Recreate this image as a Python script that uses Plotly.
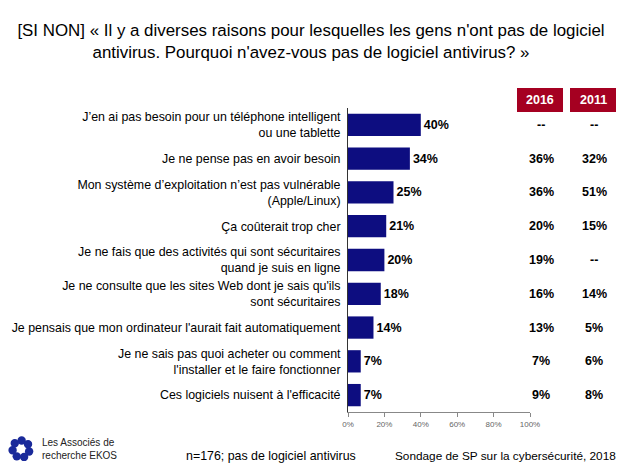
import plotly.graph_objects as go
import math

categories = [
    "J’en ai pas besoin pour un téléphone intelligent<br>ou une tablette",
    "Je ne pense pas en avoir besoin",
    "Mon système d’exploitation n’est pas vulnérable<br>(Apple/Linux)",
    "Ça coûterait trop cher",
    "Je ne fais que des activités qui sont sécuritaires<br>quand je suis en ligne",
    "Je ne consulte que les sites Web dont je sais qu'ils<br>sont sécuritaires",
    "Je pensais que mon ordinateur l'aurait fait automatiquement",
    "Je ne sais pas quoi acheter ou comment<br>l'installer et le faire fonctionner",
    "Ces logiciels nuisent à l'efficacité",
]
values_2018 = [40, 34, 25, 21, 20, 18, 14, 7, 7]
col_2016 = ["--", "36%", "36%", "20%", "19%", "16%", "13%", "7%", "9%"]
col_2011 = ["--", "32%", "51%", "15%", "--", "14%", "5%", "6%", "8%"]
x_ticks = [0, 20, 40, 60, 80, 100]
x_ticklabels = ["0%", "20%", "40%", "60%", "80%", "100%"]

TITLE = "[SI NON] « Il y a diverses raisons pour lesquelles les gens n'ont pas de logiciel<br>antivirus. Pourquoi n'avez-vous pas de logiciel antivirus? »"
ARIAL = "Liberation Sans, Arial, sans-serif"
RED = "#A50021"

# page body has an 8px margin: work in reference pixels, shift by OFF
OFF = 8
W, H = 624 - OFF, 468 - OFF
PX0, PX1, PY0, PY1 = 348, 530, 108, 412   # plot area in reference pixels
L, R, T, B = PX0 - OFF, W - (PX1 - OFF), PY0 - OFF, H - (PY1 - OFF)


def px(xr):
    return (xr - PX0) / (PX1 - PX0)


def py(yr):
    return (PY1 - yr) / (PY1 - PY0)


fig = go.Figure()
fig.add_trace(go.Bar(
    y=categories, x=values_2018, orientation="h",
    marker=dict(color="#0D0D80", line=dict(width=0)),
    width=0.66,
    text=[f"{v}%" for v in values_2018], textposition="outside",
    textfont=dict(family=ARIAL, size=12.5, color="black", weight="bold"),
    cliponaxis=False, showlegend=False,
))

# comparison columns on the category axis
for xs, vals in [(541, col_2016), (594, col_2011)]:
    for cat, v in zip(categories, vals):
        fig.add_annotation(x=px(xs), xref="paper", y=cat, yref="y", text=f"<b>{v}</b>",
                           showarrow=False, xanchor="center", yanchor="middle",
                           font=dict(family=ARIAL, size=12.5, color="black"))

# header boxes
for x0, x1, label in [(517, 563, "2016"), (570, 616, "2011")]:
    fig.add_shape(type="rect", xref="paper", yref="paper", x0=px(x0), x1=px(x1),
                  y0=py(112), y1=py(88), fillcolor=RED, line=dict(width=0), layer="above")
    fig.add_annotation(x=px((x0 + x1) / 2), y=py(100), xref="paper", yref="paper",
                       text=f"<b>{label}</b>", showarrow=False,
                       xanchor="center", yanchor="middle",
                       font=dict(family=ARIAL, size=12.5, color="white"))

# footer
fig.add_annotation(x=px(184), y=py(456), xref="paper", yref="paper",
                   text="n=176; pas de logiciel antivirus", showarrow=False,
                   xanchor="left", yanchor="middle",
                   font=dict(family=ARIAL, size=12.4, color="black"))
fig.add_annotation(x=px(618), y=py(456), xref="paper", yref="paper",
                   text="Sondage de SP sur la cybersécurité, 2018", showarrow=False,
                   xanchor="right", yanchor="middle",
                   font=dict(family=ARIAL, size=11.8, color="black"))
fig.add_annotation(x=px(40), y=py(449), xref="paper", yref="paper",
                   text="Les Associés de<br>recherche EKOS", showarrow=False,
                   xanchor="left", yanchor="middle", align="left",
                   font=dict(family=ARIAL, size=10, color="#222"))

# logo: ring of blue blobs
cx, cy, rr = 21, 449, 8.5
for k in range(7):
    a = 2 * math.pi * k / 7 + 0.3
    bx = cx + rr * math.cos(a)
    by = cy + rr * math.sin(a)
    fig.add_shape(type="circle", xref="paper", yref="paper",
                  x0=px(bx - 4.2), x1=px(bx + 4.2), y0=py(by + 4.2), y1=py(by - 4.2),
                  fillcolor="#1A2A9A", line=dict(width=0))

fig.update_layout(
    width=W, height=H,
    margin=dict(l=L, r=R, t=T, b=B, autoexpand=False),
    paper_bgcolor="white", plot_bgcolor="white",
    title=dict(text=TITLE, x=(311 - OFF) / W, xref="container", xanchor="center",
               y=1 - (36 - OFF) / H, yref="container", yanchor="middle",
               font=dict(family=ARIAL, size=16.9, color="black")),
    xaxis=dict(range=[0, 100], tickvals=x_ticks, ticktext=x_ticklabels,
               showgrid=False, zeroline=False, showline=True, linecolor="#888", linewidth=1,
               ticks="outside", ticklen=4, tickcolor="#888",
               tickfont=dict(family=ARIAL, size=8, color="#666"), fixedrange=True),
    yaxis=dict(autorange="reversed", showgrid=False, zeroline=False, showline=True,
               linecolor="#333", linewidth=1, ticks="", ticklabelstandoff=4,
               tickfont=dict(family=ARIAL, size=12.4, color="black")),
    font=dict(family=ARIAL),
)

fig.write_html("out.html")
